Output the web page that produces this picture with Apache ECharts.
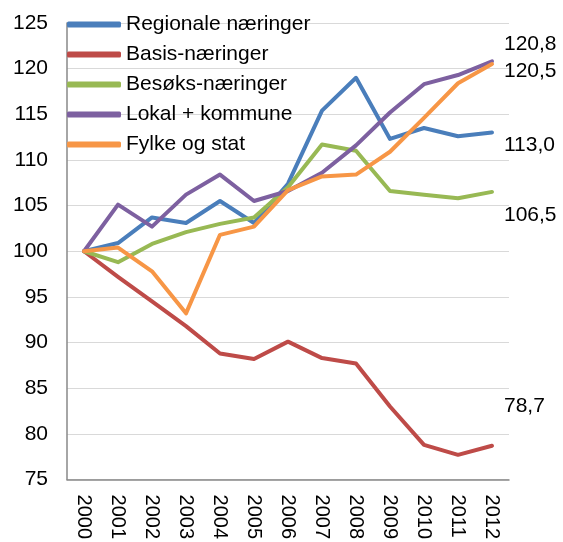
<!DOCTYPE html>
<html>
<head>
<meta charset="utf-8">
<script src="https://cdn.jsdelivr.net/npm/echarts@6/dist/echarts.min.js"></script>
<style>
  html, body { margin: 0; padding: 0; background: #fff; }
  #chart { width: 563px; height: 542px; }
</style>
</head>
<body>
<div id="chart"></div>
<script>
  // år
  var years = ['2000', '2001', '2002', '2003', '2004', '2005', '2006', '2007', '2008', '2009', '2010', '2011', '2012'];

  // indeks, 2000 = 100
  var regionale = [100, 100.9, 103.7, 103.1, 105.5, 103.1, 107.4, 115.4, 119.0, 112.3, 113.5, 112.6, 113.0];
  var basis = [100, 97.2, 94.5, 91.8, 88.8, 88.2, 90.1, 88.3, 87.7, 83.0, 78.8, 77.7, 78.7];
  var besoks = [100, 98.8, 100.8, 102.1, 103.0, 103.7, 107.0, 111.7, 111.0, 106.6, 106.2, 105.8, 106.5];
  var lokal = [100, 105.1, 102.7, 106.2, 108.4, 105.5, 106.6, 108.6, 111.6, 115.2, 118.3, 119.3, 120.8];
  var fylke = [100, 100.4, 97.8, 93.2, 101.8, 102.7, 106.7, 108.2, 108.4, 110.9, 114.6, 118.4, 120.5];

  var names = ['Regionale næringer', 'Basis-næringer', 'Besøks-næringer', 'Lokal + kommune', 'Fylke og stat'];
  var colors = ['#4a7ebb', '#be4b48', '#98b954', '#7d60a0', '#f79646'];
  // forskyvning av sluttetikett (y)
  var endOffsets = [13, -40, 23, -17, 7];

  var chart = echarts.init(document.getElementById('chart'));

  function lineSeries(i, data) {
    return {
      name: names[i],
      type: 'line',
      data: data,
      symbol: 'none',
      lineStyle: { width: 4, color: colors[i], cap: 'round', join: 'round' },
      itemStyle: { color: colors[i] },
      endLabel: {
        show: true,
        distance: 0,
        offset: [12, endOffsets[i]],
        color: '#000',
        fontSize: 21,
        fontFamily: 'Liberation Sans',
        formatter: function (p) {
          return p.value.toFixed(1).replace('.', ',');
        }
      }
    };
  }

  chart.setOption({
    animation: false,
    backgroundColor: '#fff',
    color: colors,
    grid: { left: 67, right: 54, top: 23, bottom: 59 },
    legend: {
      orient: 'vertical',
      left: 62,
      top: 9,
      itemWidth: 54,
      itemHeight: 6,
      itemGap: 9,
      icon: 'roundRect',
      textStyle: { fontSize: 21, color: '#000', fontFamily: 'Liberation Sans' },
      data: names
    },
    xAxis: {
      type: 'category',
      data: years,
      boundaryGap: true,
      axisLine: { lineStyle: { color: '#888', width: 1.5 } },
      axisTick: { show: false },
      axisLabel: {
        rotate: -90,
        interval: 0,
        margin: 15,
        fontSize: 20,
        color: '#000',
        fontFamily: 'Liberation Sans'
      }
    },
    yAxis: {
      type: 'value',
      min: 75,
      max: 125,
      interval: 5,
      axisLine: { show: true, lineStyle: { color: '#888', width: 1.5 } },
      axisTick: { show: false },
      axisLabel: { fontSize: 21, color: '#000', margin: 19, fontFamily: 'Liberation Sans' },
      splitLine: { lineStyle: { color: '#d9d9d9', width: 1 } }
    },
    series: [
      lineSeries(0, regionale),
      lineSeries(1, basis),
      lineSeries(2, besoks),
      lineSeries(3, lokal),
      lineSeries(4, fylke)
    ]
  });
</script>
</body>
</html>
